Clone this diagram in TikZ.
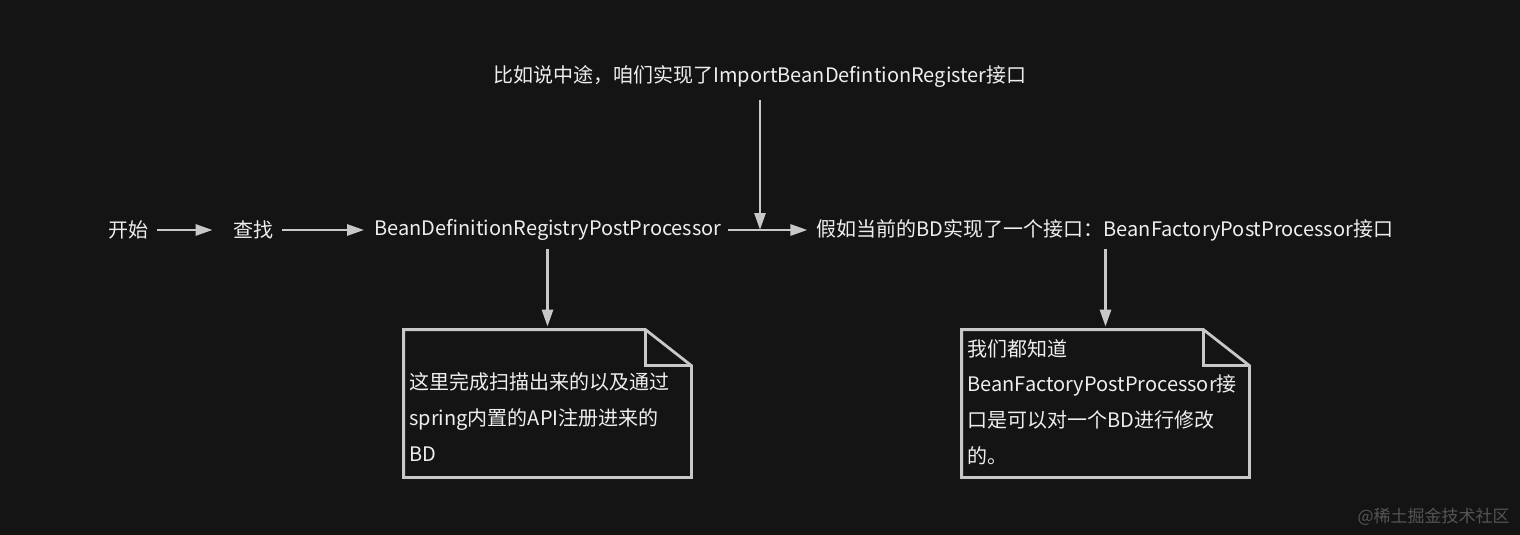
\documentclass[tikz,border=0pt]{standalone}
\usepackage{fontspec}
\setmainfont{Noto Sans CJK SC}
\usetikzlibrary{arrows.meta}
\definecolor{bgdark}{HTML}{141414}
\definecolor{linegray}{HTML}{C8C8C8}
\definecolor{txtwhite}{HTML}{EEEEEE}
\definecolor{markgray}{HTML}{555555}

\begin{document}
\begin{tikzpicture}[x=0.5pt,y=-0.5pt,
    label/.style={text=txtwhite, font=\fontsize{10}{13}\selectfont, inner sep=0pt},
    notetext/.style={label, align=left, anchor=base west, font=\fontsize{10}{17.8}\selectfont},
    notebox/.style={draw=none, minimum width=143.5pt, minimum height=73.5pt, inner sep=0pt},
    noteline/.style={draw=linegray, line width=1.4pt, line join=miter},
    arr/.style={draw=linegray, line width=1.4pt, -{Triangle[length=8.5pt,width=5.5pt]}}]
    \fill[bgdark] (0,0) rectangle (1520,535);
    \useasboundingbox (0,0) rectangle (1520,535);

    \node[label] (start) at (128,230) {开始};
    \node[label] (find) at (253,230) {查找};
    \node[label] (registry) at (548,230) {BeanDefinitionRegistryPostProcessor};
    \node[label] (factory) at (1105,230) {假如当前的BD实现了一个接口：BeanFactoryPostProcessor接口};
    \node[label] (middle) at (760,77) {比如说中途，咱们实现了ImportBeanDefintionRegister接口};

    \node[notebox] (noteA) at (547.5,403.5) {};
    \node[notebox] (noteB) at (1105.5,403.5) {};
    \foreach \n in {noteA,noteB} {
        \draw[noteline] (\n.north west) -- ([xshift=-23pt]\n.north east) -- ([yshift=-18pt]\n.north east)
            -- (\n.south east) -- (\n.south west) -- cycle;
        \draw[noteline] ([xshift=-23pt]\n.north east) -- ([xshift=-23pt,yshift=-18pt]\n.north east)
            -- ([yshift=-18pt]\n.north east);
    }

    \node[notetext] (noteAtext) at (409,461) {这里完成扫描出来的以及通过\\spring内置的API注册进来的\\BD};
    \node[notetext] (noteBtext) at (967,463) {我们都知道\\BeanFactoryPostProcessor接\\口是可以对一个BD进行修改\\的。};

    \draw[arr, shorten <=4.5pt, shorten >=10pt] (start) -- (find);
    \draw[arr, shorten <=4.5pt, shorten >=5pt] (find) -- (registry);
    \draw[arr, shorten <=3pt, shorten >=4.5pt] (registry) -- (factory);
    \draw[arr, shorten <=6pt] (middle) -- (middle |- registry);
    \draw[arr, shorten <=4pt, shorten >=1.5pt] (registry.south -| noteA.north) -- (noteA.north);
    \draw[arr, shorten <=4pt, shorten >=1.5pt] (factory.south -| noteB.north) -- (noteB.north);

    \node[anchor=base east, inner sep=0pt, text=markgray, font=\fontsize{8.5}{10}\selectfont] (mark) at (1510,522) {@稀土掘金技术社区};
\end{tikzpicture}
\end{document}
